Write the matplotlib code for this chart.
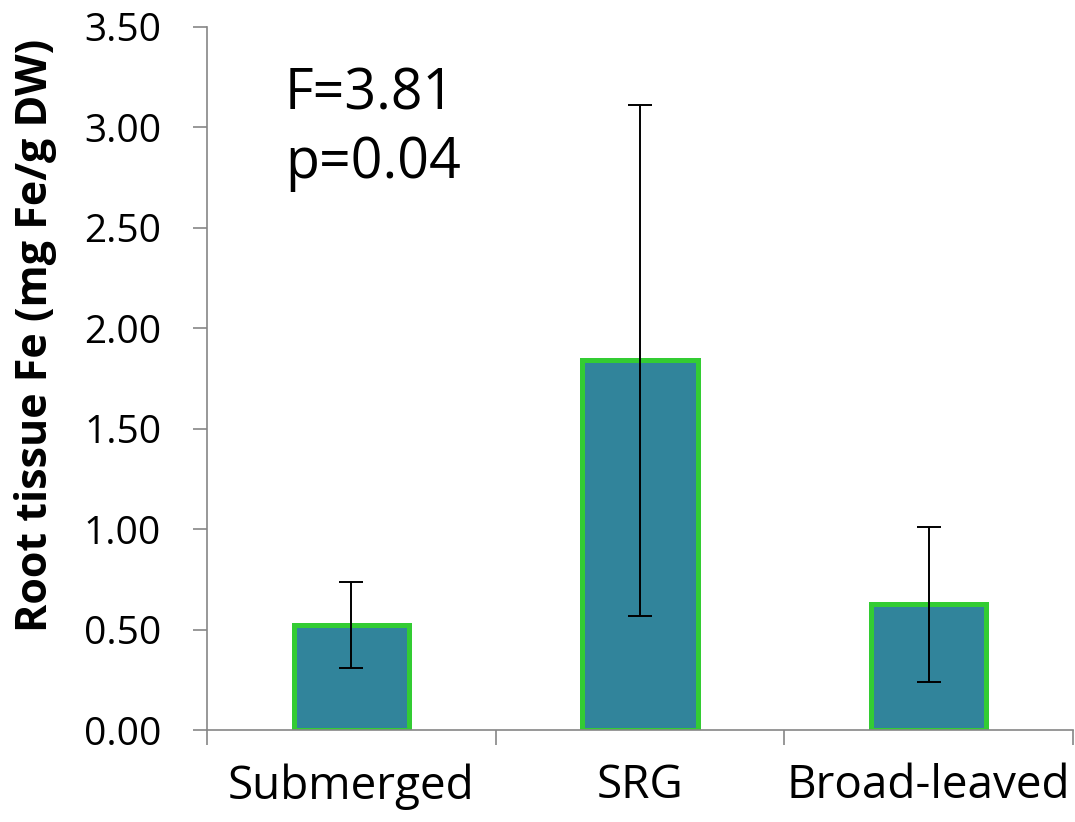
import matplotlib
matplotlib.use("Agg")
import matplotlib.pyplot as plt
import numpy as np

categories = ["Submerged", "SRG", "Broad-leaved"]
means = [0.525, 1.84, 0.625]
errors = [0.214, 1.273, 0.384]
y_ticks = [0.0, 0.5, 1.0, 1.5, 2.0, 2.5, 3.0, 3.5]

plt.rcParams['font.family'] = ['Open Sans', 'DejaVu Sans']

fig = plt.figure(figsize=(10.75, 8.22), dpi=100)
ax = fig.add_axes([0.1926, 0.1119, 0.8054, 0.8553])

x = np.arange(len(categories))
ax.bar(x, means, width=0.40, color="#31849B", edgecolor="#33CC33", linewidth=3.6, zorder=2)
ax.errorbar(x, means, yerr=errors, fmt="none", ecolor="black", elinewidth=1.4,
            capsize=8.5, capthick=1.4, zorder=3)

ax.set_xlim(-0.5, 2.5)
ax.set_ylim(0, 3.5)
ax.set_yticks(y_ticks)
ax.set_yticklabels([f"{v:.2f}" for v in y_ticks], fontsize=28)
ax.set_xticks(x)
ax.set_xticklabels(categories, fontsize=33)
ax.tick_params(axis="x", length=0, pad=24)
ax.set_xticks([-0.5, 0.5, 1.5, 2.5], minor=True)
ax.tick_params(axis="x", which="minor", length=11, color="#868686", width=1.2)
ax.tick_params(axis="y", length=10, color="#868686", width=1.2, pad=23)

for s in ["top", "right"]:
    ax.spines[s].set_visible(False)
for s in ["left", "bottom"]:
    ax.spines[s].set_color("#868686")
    ax.spines[s].set_linewidth(1.2)

ax.set_ylabel("Root tissue Fe (mg Fe/g DW)", fontsize=31, fontweight="bold", va="center")
ax.yaxis.set_label_coords(-0.1986, 0.562)
ax.text(0.09, 0.882, "F=3.81", transform=ax.transAxes, fontsize=40,
        va="baseline", ha="left")
ax.text(0.09, 0.785, "p=0.04", transform=ax.transAxes, fontsize=40,
        va="baseline", ha="left")

fig.savefig("out.png", dpi=100)
